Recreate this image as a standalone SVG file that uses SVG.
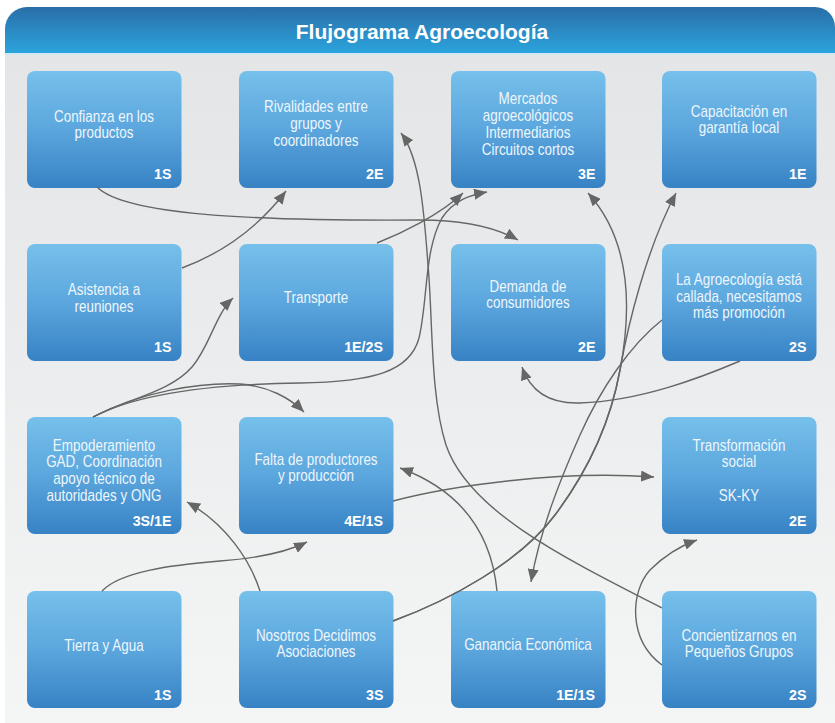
<svg xmlns="http://www.w3.org/2000/svg" width="835" height="723" viewBox="0 0 835 723">
<defs>
<linearGradient id="gHead" x1="0" y1="0" x2="0" y2="1">
<stop offset="0" stop-color="#2a6ea8"/>
<stop offset="1" stop-color="#2ba4dd"/>
</linearGradient>
<linearGradient id="gPanel" x1="0" y1="0" x2="0" y2="1">
<stop offset="0" stop-color="#e4e5e7"/>
<stop offset="1" stop-color="#f4f5f5"/>
</linearGradient>
<linearGradient id="gNode" x1="0" y1="0" x2="0" y2="1">
<stop offset="0" stop-color="#76c0eb"/>
<stop offset="0.5" stop-color="#5ba6dd"/>
<stop offset="1" stop-color="#3782c4"/>
</linearGradient>
<marker id="arr" viewBox="0 0 13 11" refX="13" refY="5.5" markerWidth="13" markerHeight="11" orient="auto" markerUnits="userSpaceOnUse">
<path d="M0,0 L13,5.5 L0,11 Z" fill="#666666"/>
</marker>
<style>
.node{fill:url(#gNode);}
.lbl{font-family:"Liberation Sans",Arial,sans-serif;font-size:16px;fill:#eef6fc;text-anchor:middle;}
.bdg{font-family:"Liberation Sans",Arial,sans-serif;font-size:15.5px;font-weight:bold;fill:#ffffff;text-anchor:end;}
.edge{fill:none;stroke:#666666;stroke-width:1.4;marker-end:url(#arr);}
.title{font-family:"Liberation Sans",Arial,sans-serif;font-size:21px;font-weight:bold;fill:#ffffff;text-anchor:middle;}
</style>
</defs>

<rect x="0" y="0" width="835" height="723" fill="#ffffff"/>
<rect x="5" y="53" width="830" height="670" fill="url(#gPanel)"/>
<g id="header">
<path d="M5,53 V29 A22,22 0 0 1 27,7 H815 A20,20 0 0 1 835,27 V53 Z" fill="url(#gHead)"/>
<rect x="5" y="53" width="830" height="1.6" fill="#cfe6f4"/>
<text class="title" x="422" y="39">Flujograma Agroecología</text>
</g>

<g id="n-confianza">
<rect class="node" x="27" y="71" width="154.5" height="117" rx="8"/>
<g transform="translate(104 0) scale(0.84 1)"><text class="lbl" x="0" y="122.5">Confianza en los</text><text class="lbl" x="0" y="138.5">productos</text></g>
<text class="bdg" transform="translate(171.5 179) scale(0.92 1)">1S</text>
</g>
<g id="n-rivalidades">
<rect class="node" x="239" y="71" width="154.5" height="117" rx="8"/>
<g transform="translate(316 0) scale(0.84 1)"><text class="lbl" x="0" y="111.7">Rivalidades entre</text><text class="lbl" x="0" y="128.7">grupos y</text><text class="lbl" x="0" y="145.7">coordinadores</text></g>
<text class="bdg" transform="translate(383.5 179) scale(0.92 1)">2E</text>
</g>
<g id="n-mercados">
<rect class="node" x="451" y="71" width="154.5" height="117" rx="8"/>
<g transform="translate(528 0) scale(0.84 1)"><text class="lbl" x="0" y="104.3">Mercados</text><text class="lbl" x="0" y="121.3">agroecológicos</text><text class="lbl" x="0" y="138.3">Intermediarios</text><text class="lbl" x="0" y="155.3">Circuitos cortos</text></g>
<text class="bdg" transform="translate(595.5 179) scale(0.92 1)">3E</text>
</g>
<g id="n-capacitacion">
<rect class="node" x="662" y="71" width="154.5" height="117" rx="8"/>
<g transform="translate(739 0) scale(0.84 1)"><text class="lbl" x="0" y="116.7">Capacitación en</text><text class="lbl" x="0" y="133.3">garantía local</text></g>
<text class="bdg" transform="translate(806.5 179) scale(0.92 1)">1E</text>
</g>

<g id="n-asistencia">
<rect class="node" x="27" y="244" width="154.5" height="117" rx="8"/>
<g transform="translate(104 0) scale(0.84 1)"><text class="lbl" x="0" y="295">Asistencia a</text><text class="lbl" x="0" y="311.7">reuniones</text></g>
<text class="bdg" transform="translate(171.5 352) scale(0.92 1)">1S</text>
</g>
<g id="n-transporte">
<rect class="node" x="239" y="244" width="154.5" height="117" rx="8"/>
<g transform="translate(316 0) scale(0.84 1)"><text class="lbl" x="0" y="303.3">Transporte</text></g>
<text class="bdg" transform="translate(383 352) scale(0.92 1)">1E/2S</text>
</g>
<g id="n-demanda">
<rect class="node" x="451" y="244" width="154.5" height="117" rx="8"/>
<g transform="translate(528 0) scale(0.84 1)"><text class="lbl" x="0" y="291.7">Demanda de</text><text class="lbl" x="0" y="308.3">consumidores</text></g>
<text class="bdg" transform="translate(595.5 352) scale(0.92 1)">2E</text>
</g>
<g id="n-laagro">
<rect class="node" x="662" y="244" width="154.5" height="117" rx="8"/>
<g transform="translate(739 0) scale(0.84 1)"><text class="lbl" x="0" y="285">La Agroecología está</text><text class="lbl" x="0" y="301.7">callada, necesitamos</text><text class="lbl" x="0" y="318.3">más promoción</text></g>
<text class="bdg" transform="translate(806.5 352) scale(0.92 1)">2S</text>
</g>

<g id="n-empoderamiento">
<rect class="node" x="27" y="417" width="154.5" height="117" rx="8"/>
<g transform="translate(104 0) scale(0.84 1)"><text class="lbl" x="0" y="450.7">Empoderamiento</text><text class="lbl" x="0" y="467.3">GAD, Coordinación</text><text class="lbl" x="0" y="484">apoyo técnico de</text><text class="lbl" x="0" y="500.7">autoridades y ONG</text></g>
<text class="bdg" transform="translate(171.5 525.5) scale(0.92 1)">3S/1E</text>
</g>
<g id="n-falta">
<rect class="node" x="239" y="417" width="154.5" height="117" rx="8"/>
<g transform="translate(316 0) scale(0.84 1)"><text class="lbl" x="0" y="465">Falta de productores</text><text class="lbl" x="0" y="481">y producción</text></g>
<text class="bdg" transform="translate(383 525.5) scale(0.92 1)">4E/1S</text>
</g>
<g id="n-transformacion">
<rect class="node" x="662" y="417" width="154.5" height="117" rx="8"/>
<g transform="translate(739 0) scale(0.84 1)"><text class="lbl" x="0" y="450.7">Transformación</text><text class="lbl" x="0" y="467.3">social</text><text class="lbl" x="0" y="500.7">SK-KY</text></g>
<text class="bdg" transform="translate(806.5 525.5) scale(0.92 1)">2E</text>
</g>

<g id="n-tierra">
<rect class="node" x="27" y="591" width="154.5" height="117" rx="8"/>
<g transform="translate(104 0) scale(0.84 1)"><text class="lbl" x="0" y="651.3">Tierra y Agua</text></g>
<text class="bdg" transform="translate(171.5 699.5) scale(0.92 1)">1S</text>
</g>
<g id="n-nosotros">
<rect class="node" x="239" y="591" width="154.5" height="117" rx="8"/>
<g transform="translate(316 0) scale(0.84 1)"><text class="lbl" x="0" y="641.3">Nosotros Decidimos</text><text class="lbl" x="0" y="657.3">Asociaciones</text></g>
<text class="bdg" transform="translate(383.5 699.5) scale(0.92 1)">3S</text>
</g>
<g id="n-ganancia">
<rect class="node" x="451" y="591" width="154.5" height="117" rx="8"/>
<g transform="translate(528 0) scale(0.84 1)"><text class="lbl" x="0" y="649.7">Ganancia Económica</text></g>
<text class="bdg" transform="translate(595 699.5) scale(0.92 1)">1E/1S</text>
</g>
<g id="n-concientizarnos">
<rect class="node" x="662" y="591" width="154.5" height="117" rx="8"/>
<g transform="translate(739 0) scale(0.84 1)"><text class="lbl" x="0" y="641.3">Concientizarnos en</text><text class="lbl" x="0" y="657.3">Pequeños Grupos</text></g>
<text class="bdg" transform="translate(806.5 699.5) scale(0.92 1)">2S</text>
</g>

<g id="connectors">
<path class="edge" d="M97,187 C125,215 250,221 420,220 C462,220 495,227 518,240"/>
<path class="edge" d="M182,268 C225,252 260,225 286,191"/>
<path class="edge" d="M662,608 C560,556 468,510 446,445 C430,395 433,320 428,265 C424,210 420,158 401,133"/>
<path class="edge" d="M377,243 C400,234 440,215 463,193"/>
<path class="edge" d="M93,417 C130,398 170,392 192,367 C210,346 215,315 233,298"/>
<path class="edge" d="M93,417 C140,392 200,382 240,384 C268,386 290,398 304,412"/>
<path class="edge" d="M93,417 C140,392 220,384 300,383 C372,382 410,372 419,338 C428,300 424,250 442,218 C454,200 470,195 487,192"/>
<path class="edge" d="M393,621 C450,600 520,562 555,515 C585,475 610,425 620,370 C630,318 635,245 588,193"/>
<path class="edge" d="M393,621 C450,600 520,562 555,515 C585,475 610,425 620,370 C628,325 646,250 676,193"/>
<path class="edge" d="M662,320 C630,345 600,390 580,435 C560,480 540,530 531,582"/>
<path class="edge" d="M740,361 C700,378 640,401 580,403 C548,404 530,390 522,367"/>
<path class="edge" d="M497,591 C492,540 468,493 400,468"/>
<path class="edge" d="M393,501 C450,486 560,470 654,477"/>
<path class="edge" d="M662,665 C628,640 630,592 650,570 C664,556 680,546 697,540"/>
<path class="edge" d="M102,591 C120,572 170,565 220,561 C260,558 287,552 307,542"/>
<path class="edge" d="M260,591 C250,560 226,524 187,502"/>
</g>
</svg>
